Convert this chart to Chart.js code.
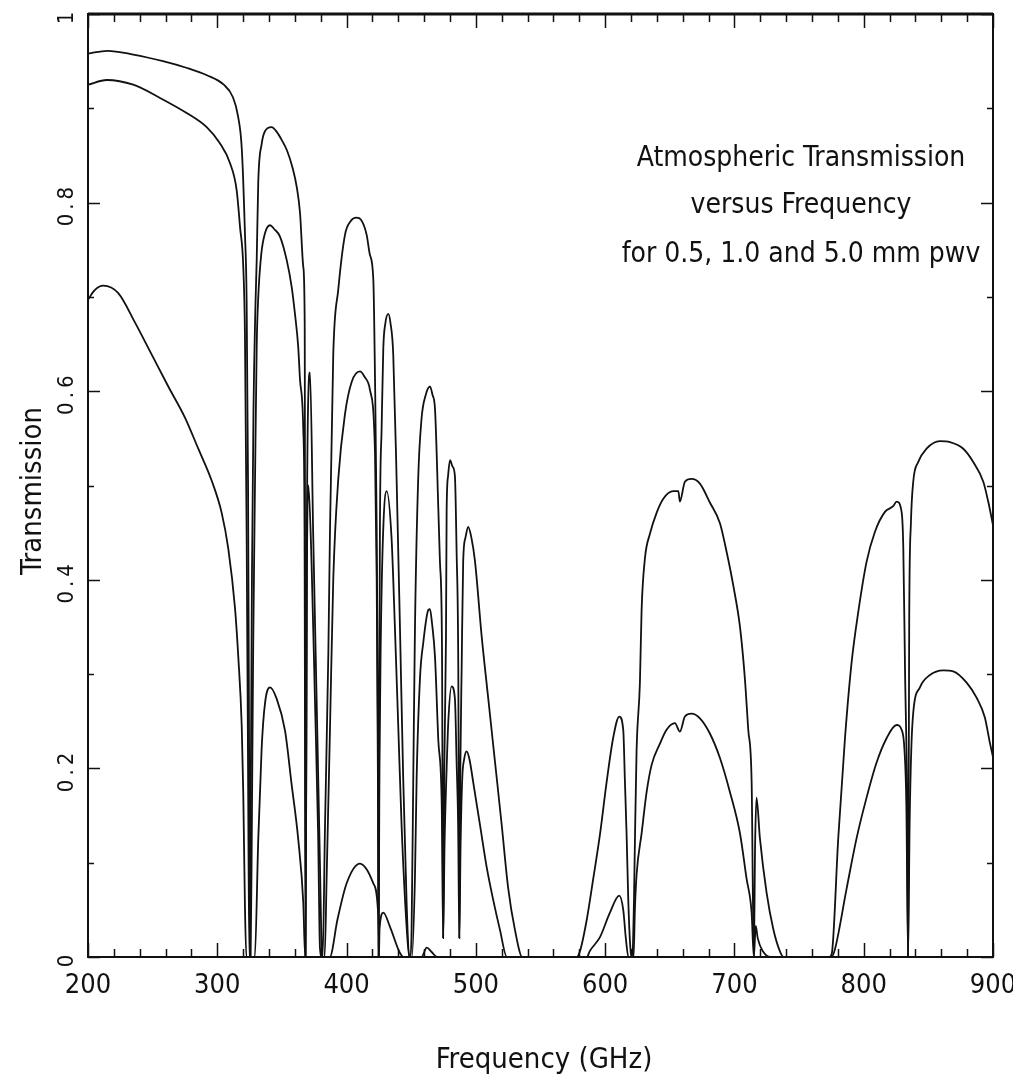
<!DOCTYPE html>
<html>
<head>
<meta charset="utf-8">
<script src="https://cdn.jsdelivr.net/npm/chart.js@4.4.1/dist/chart.umd.min.js"></script>
<style>
  html, body { margin: 0; padding: 0; background: #fff; }
  #wrap { width: 1013px; height: 1078px; }
</style>
</head>
<body>
<div id="wrap"><canvas id="atm-chart" width="1013" height="1078"></canvas></div>
<script>
// 0.5 mm pwv (top curve)
const freqHalfMm = [
  200, 215, 235, 258, 276, 292, 305, 312, 316, 319, 321.4, 322.7, 323.8, 324.6, 325.2, 325.8, 326.8, 328, 329.5, 330.5,
  331.7, 334.3, 337, 342, 346, 350, 354, 358, 361.4, 364, 366.5, 367.6, 368.3, 369.3, 370.5, 371.7, 374.2, 376.8, 379.4, 380.5,
  381.5, 383.3, 385.9, 387.2, 389.7, 393.6, 398.8, 403, 407.8, 411, 415.5, 418, 420.7, 422, 423.3, 424.2, 424.8, 425.4, 425.8, 427.1,
  428.4, 430, 432.3, 434, 436.1, 438.7, 441.3, 443.8, 446.4, 448.5, 449.5, 450.3, 451.6, 452.9, 455.4, 458, 461, 464.5, 466.5, 468.4,
  471, 472.2, 473.8, 474.7, 475.6, 476.9, 477.4, 478.5, 480, 482, 483.8, 485.1, 486.4, 487.2, 488, 489, 490.2, 492, 494.1, 496.5,
  499.3, 504.5, 509.6, 514.8, 520, 525, 530.2, 536, 560, 578, 580.5, 585.7, 590.8, 596, 601.2, 606.3, 610.9, 614, 615.3, 616.6,
  617.9, 619.5, 621, 622.3, 623, 624.3, 626.9, 628.2, 630.8, 634.7, 639.8, 645, 652.7, 656.6, 657.8, 661.7, 666.8, 673.3, 681, 688.8,
  693.9, 699.1, 704.3, 708.1, 710.7, 713.3, 715, 716, 717.1, 719.7, 724.9, 730, 735.2, 738, 760, 773, 775.2, 780.3, 785.5, 790.6,
  795.8, 802.2, 808.7, 816.4, 822.8, 825.4, 829.3, 830.6, 832, 833.5, 834.3, 835.2, 836.5, 838.3, 842.2, 848.6, 859, 866.7, 877, 884.7,
  892.5, 896.3, 900,
];
const transHalfMm = [
  0.958, 0.961, 0.957, 0.950, 0.943, 0.935, 0.925, 0.912, 0.892, 0.856, 0.767, 0.696, 0.50, 0.22, 0.0, 0.15, 0.40, 0.58, 0.69, 0.74,
  0.822, 0.862, 0.876, 0.880, 0.875, 0.866, 0.855, 0.838, 0.817, 0.789, 0.732, 0.675, 0.0, 0.45, 0.60, 0.62, 0.447, 0.275, 0.10, 0.02,
  0.0, 0.138, 0.322, 0.455, 0.639, 0.708, 0.766, 0.780, 0.784, 0.782, 0.766, 0.745, 0.718, 0.613, 0.455, 0.25, 0.0, 0.30, 0.455, 0.56,
  0.645, 0.672, 0.682, 0.672, 0.639, 0.507, 0.349, 0.19, 0.059, 0.0, 0.0, 0.03, 0.19, 0.349, 0.507, 0.571, 0.595, 0.605, 0.596, 0.581,
  0.474, 0.42, 0.33, 0.02, 0.20, 0.34, 0.474, 0.51, 0.527, 0.52, 0.51, 0.43, 0.309, 0.02, 0.20, 0.305, 0.42, 0.445, 0.456, 0.445,
  0.42, 0.34, 0.274, 0.207, 0.14, 0.073, 0.029, 0.0, 0.0, 0.0, 0.006, 0.039, 0.083, 0.13, 0.186, 0.233, 0.255, 0.241, 0.186, 0.13,
  0.06, 0.01, 0.0, 0.06, 0.12, 0.218, 0.291, 0.368, 0.423, 0.449, 0.471, 0.486, 0.494, 0.494, 0.483, 0.504, 0.507, 0.502, 0.482, 0.46,
  0.43, 0.394, 0.35, 0.295, 0.241, 0.186, 0.0, 0.12, 0.169, 0.126, 0.068, 0.03, 0.006, 0.0, 0.0, 0.0, 0.003, 0.126, 0.232, 0.312,
  0.366, 0.419, 0.451, 0.472, 0.478, 0.483, 0.472, 0.435, 0.30, 0.17, 0.0, 0.36, 0.46, 0.504, 0.525, 0.539, 0.547, 0.546, 0.539, 0.525,
  0.504, 0.483, 0.458,
];

// 1.0 mm pwv (middle curve)
const freqOneMm = [
  200, 214.5, 235, 255.7, 276.3, 291.8, 302, 309.8, 315, 317.6, 320.1, 321.4, 322.7, 323.8, 324.8, 325.8, 326.8, 327.8, 329.2, 330.5,
  331.7, 334, 337, 340.8, 344, 348.5, 353.7, 357.5, 360, 362.6, 364, 366.5, 367.5, 368.3, 369.3, 370.5, 372.9, 375.5, 378, 379.4,
  381, 383, 384.6, 387.2, 389.7, 393.6, 398.8, 404, 410.4, 414, 418, 422, 423.3, 424.2, 424.8, 425.4, 426.6, 428.4, 431, 434.8,
  437.4, 440, 442.6, 446.4, 448.5, 450.5, 452.9, 454.2, 456.8, 459.3, 463.2, 464.5, 466, 468.4, 471, 473.6, 474.7, 475.8, 477.4, 478.7,
  481.2, 483.8, 485.1, 486.3, 487.2, 488.2, 489.5, 491, 492.8, 495, 498, 503.2, 508.4, 513.5, 518.6, 524, 560, 586, 588, 596,
  603.7, 610.9, 614, 616, 618, 622, 623, 624.3, 628.2, 632.1, 636, 642.3, 647.5, 654, 657.8, 661.7, 666.8, 673.3, 681, 688.8,
  696.5, 704.3, 709.4, 713.3, 715, 716.5, 718, 722, 728, 775, 777.7, 786.7, 794.5, 802.2, 809.9, 817.7, 825.4, 829.3, 831.5, 833,
  834.3, 835.5, 836.8, 838.3, 843.5, 851.2, 861.5, 869.2, 879.6, 887.3, 893.7, 897.6, 900,
];
const transOneMm = [
  0.925, 0.930, 0.925, 0.911, 0.895, 0.880, 0.863, 0.842, 0.813, 0.774, 0.732, 0.66, 0.45, 0.20, 0.0, 0.0, 0.15, 0.333, 0.506, 0.649,
  0.70, 0.745, 0.768, 0.776, 0.772, 0.764, 0.739, 0.711, 0.683, 0.647, 0.612, 0.56, 0.45, 0.0, 0.40, 0.50, 0.419, 0.275, 0.13, 0.01,
  0.0, 0.0, 0.085, 0.244, 0.40, 0.507, 0.576, 0.61, 0.621, 0.615, 0.602, 0.534, 0.40, 0.20, 0.0, 0.20, 0.349, 0.455, 0.494, 0.444,
  0.349, 0.244, 0.138, 0.033, 0.0, 0.0, 0.085, 0.19, 0.296, 0.333, 0.368, 0.369, 0.355, 0.318, 0.229, 0.162, 0.02, 0.12, 0.20, 0.25,
  0.287, 0.274, 0.207, 0.14, 0.02, 0.12, 0.19, 0.21, 0.218, 0.21, 0.185, 0.14, 0.095, 0.06, 0.029, 0.0, 0.0, 0.0, 0.006, 0.021,
  0.047, 0.065, 0.05, 0.02, 0.0, 0.0, 0.05, 0.087, 0.131, 0.175, 0.204, 0.226, 0.241, 0.248, 0.239, 0.255, 0.258, 0.253, 0.237, 0.211,
  0.175, 0.131, 0.083, 0.047, 0.0, 0.033, 0.02, 0.006, 0.0, 0.0, 0.008, 0.072, 0.126, 0.169, 0.206, 0.232, 0.246, 0.241, 0.22, 0.16,
  0.0, 0.14, 0.22, 0.259, 0.286, 0.299, 0.304, 0.303, 0.291, 0.275, 0.254, 0.227, 0.212,
];

// 5.0 mm pwv (bottom curve)
const freqFiveMm = [
  200, 205, 211.8, 223.4, 236.3, 249.2, 262.1, 275, 285.3, 295.7, 303.4, 308.5, 313.7, 316.3, 318.9, 320.1, 321.4, 322.5, 329, 331.7,
  334.3, 336.9, 340.8, 345.9, 352.4, 357.5, 362.6, 366.5, 368, 387, 393, 400, 410.4, 416, 420.7, 424.5, 425, 425.5, 428.4, 433.6,
  441, 444, 458, 462, 466, 470, 900,
];
const transFiveMm = [
  0.697, 0.707, 0.712, 0.704, 0.673, 0.639, 0.605, 0.572, 0.539, 0.505, 0.471, 0.433, 0.370, 0.317, 0.245, 0.173, 0.053, 0.0, 0.0, 0.125,
  0.221, 0.269, 0.286, 0.274, 0.24, 0.183, 0.125, 0.058, 0.0, 0.0, 0.04, 0.078, 0.099, 0.092, 0.078, 0.044, 0.0, 0.03, 0.047, 0.032,
  0.005, 0.0, 0.0, 0.01, 0.005, 0.0, 0.0,
];

const xTickLabels = ["200", "300", "400", "500", "600", "700", "800", "900"];
const yTickLabels = ["0", "0.2", "0.4", "0.6", "0.8", "1"];
const noteLines = ["Atmospheric Transmission", "versus Frequency", "for 0.5, 1.0 and 5.0 mm pwv"];

const FONT = '"Liberation Sans Narrow", "DejaVu Sans Condensed", "Arial Narrow", sans-serif';
const INK = "#111";

function toPoints(xs, ys) {
  return xs.map((x, i) => ({ x, y: ys[i] }));
}

function curve(label, xs, ys) {
  return {
    label,
    data: toPoints(xs, ys),
    borderColor: INK,
    backgroundColor: "transparent",
    borderWidth: 1.8,
    pointRadius: 0,
    cubicInterpolationMode: "monotone",
  };
}

// frame, inward ticks and all the text, placed from the chart's own scales
const framePlugin = {
  id: "frame",
  afterDraw(chart) {
    const ctx = chart.ctx;
    const { left, right, top, bottom } = chart.chartArea;
    const xs = chart.scales.x;
    const ys = chart.scales.y;
    ctx.save();
    ctx.strokeStyle = INK;
    ctx.lineWidth = 2;
    ctx.strokeRect(left, top, right - left, bottom - top);
    ctx.lineWidth = 3;
    ctx.beginPath();
    ctx.moveTo(left, top);
    ctx.lineTo(right, top);
    ctx.stroke();

    ctx.lineWidth = 1.5;
    ctx.beginPath();
    for (let f = 200; f <= 900; f += 20) {
      const px = Math.round(xs.getPixelForValue(f)) + 0.5;
      const len = f % 100 === 0 ? 14 : 8;
      ctx.moveTo(px, bottom); ctx.lineTo(px, bottom - len);
      ctx.moveTo(px, top); ctx.lineTo(px, top + len);
    }
    for (let k = 0; k <= 10; k++) {
      const py = Math.round(ys.getPixelForValue(k / 10)) + 0.5;
      const len = k % 2 === 0 ? 12 : 6;
      ctx.moveTo(left, py); ctx.lineTo(left + len, py);
      ctx.moveTo(right, py); ctx.lineTo(right - len, py);
    }
    ctx.stroke();

    ctx.fillStyle = INK;
    // x tick labels
    ctx.font = `27px ${FONT}`;
    ctx.textAlign = "center";
    ctx.textBaseline = "alphabetic";
    xTickLabels.forEach((t) => {
      ctx.fillText(t, xs.getPixelForValue(Number(t)), 993);
    });
    // y tick labels, turned on their side
    ctx.font = `22px ${FONT}`;
    ctx.letterSpacing = "4px";
    yTickLabels.forEach((t) => {
      const py = ys.getPixelForValue(Number(t));
      ctx.save();
      ctx.translate(73, py + 2);
      ctx.rotate(-Math.PI / 2);
      ctx.textAlign = "center";
      ctx.fillText(t, 0, 0);
      ctx.restore();
    });
    ctx.letterSpacing = "0px";
    // axis titles
    ctx.font = `29px ${FONT}`;
    ctx.textAlign = "center";
    ctx.fillText("Frequency (GHz)", 544, 1068);
    ctx.save();
    ctx.translate(41, 491);
    ctx.rotate(-Math.PI / 2);
    ctx.fillText("Transmission", 0, 0);
    ctx.restore();
    // note in the upper right
    ctx.font = `28px ${FONT}`;
    const baselines = [166, 213, 262];
    noteLines.forEach((line, i) => ctx.fillText(line, 801, baselines[i]));
    ctx.restore();
  },
};

new Chart(document.getElementById("atm-chart").getContext("2d"), {
  type: "line",
  data: {
    datasets: [
      curve("0.5 mm pwv", freqHalfMm, transHalfMm),
      curve("1.0 mm pwv", freqOneMm, transOneMm),
      curve("5.0 mm pwv", freqFiveMm, transFiveMm),
    ],
  },
  options: {
    responsive: false,
    animation: false,
    devicePixelRatio: 1,
    layout: { padding: { left: 88, right: 20, top: 14, bottom: 121 } },
    plugins: { legend: { display: false }, tooltip: { enabled: false } },
    scales: {
      x: { type: "linear", min: 200, max: 900, display: false },
      y: { type: "linear", min: 0, max: 1, display: false },
    },
  },
  plugins: [framePlugin],
});
</script>
</body>
</html>
